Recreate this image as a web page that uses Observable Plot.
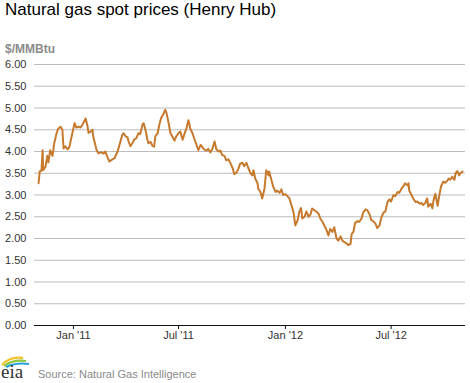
<!DOCTYPE html>
<html><head><meta charset="utf-8">
<script src="https://cdn.jsdelivr.net/npm/d3@7"></script>
<script src="https://cdn.jsdelivr.net/npm/@observablehq/plot@0.6"></script>
<style>
body{margin:0;width:470px;height:383px;position:relative;overflow:hidden;background:#fff;font-family:"Liberation Sans",Arial,sans-serif;}
#title{position:absolute;left:5px;top:0px;font-size:17px;color:#000;white-space:nowrap;}
#chart{position:absolute;left:0;top:45px;}
#unit{position:absolute;left:5px;top:42px;font-size:12px;font-weight:bold;color:#8a8a8a;}
#source{position:absolute;left:38px;top:368px;font-size:11px;color:#8a8a8a;white-space:nowrap;}
#logo{position:absolute;left:1px;top:352px;}
</style></head>
<body>
<div id="title">Natural gas spot prices (Henry Hub)</div>
<div id="chart"></div>
<div id="unit">$/MMBtu</div>
<svg id="logo" width="32" height="31" viewBox="0 0 32 31">
  <path d="M1 13 Q9 4 22 6" stroke="#f2c32e" stroke-width="2.4" fill="none"/>
  <path d="M3 14 Q12 7 25 9" stroke="#8dc63f" stroke-width="2.2" fill="none"/>
  <path d="M5 15 Q15 10 28 12" stroke="#27a2d8" stroke-width="2" fill="none"/>
  <text x="0" y="26" font-family="Liberation Serif, serif" font-size="19" fill="#333">eia</text>
</svg>
<div id="source">Source: Natural Gas Intelligence</div>
<script>
const dates = [
"2010-11-02","2010-11-04","2010-11-07","2010-11-09","2010-11-10","2010-11-14","2010-11-17","2010-11-19","2010-11-22","2010-11-26","2010-11-29",
"2010-12-03","2010-12-06","2010-12-10","2010-12-13","2010-12-15","2010-12-18","2010-12-22","2010-12-25","2010-12-29",
"2011-01-03","2011-01-06","2011-01-10","2011-01-13","2011-01-16","2011-01-22","2011-01-25","2011-01-27","2011-01-30",
"2011-02-03","2011-02-04","2011-02-10","2011-02-13","2011-02-18","2011-02-22","2011-02-25","2011-02-28",
"2011-03-04","2011-03-09","2011-03-13","2011-03-18","2011-03-23","2011-03-26","2011-03-28",
"2011-04-01","2011-04-04","2011-04-06","2011-04-09","2011-04-13","2011-04-16","2011-04-19","2011-04-23","2011-04-26","2011-04-30",
"2011-05-02","2011-05-05","2011-05-08","2011-05-10","2011-05-14","2011-05-17","2011-05-20","2011-05-22","2011-05-26","2011-05-29",
"2011-06-01","2011-06-05","2011-06-08","2011-06-10","2011-06-14","2011-06-17","2011-06-19","2011-06-22","2011-06-24","2011-06-27",
"2011-07-01","2011-07-04","2011-07-08","2011-07-11","2011-07-15","2011-07-18","2011-07-20","2011-07-21","2011-07-25","2011-07-28",
"2011-08-01","2011-08-04","2011-08-08","2011-08-11","2011-08-14","2011-08-18","2011-08-21","2011-08-25","2011-08-28",
"2011-09-01","2011-09-04","2011-09-08","2011-09-11","2011-09-14","2011-09-18","2011-09-21","2011-09-25","2011-09-28",
"2011-10-02","2011-10-05","2011-10-09","2011-10-12","2011-10-15","2011-10-19","2011-10-22","2011-10-26","2011-10-29",
"2011-11-02","2011-11-05","2011-11-07","2011-11-10","2011-11-14","2011-11-15","2011-11-19","2011-11-22","2011-11-26","2011-11-29",
"2011-12-03","2011-12-04","2011-12-08","2011-12-11","2011-12-15","2011-12-18","2011-12-22","2011-12-25","2011-12-28",
"2012-01-01","2012-01-04","2012-01-08","2012-01-11","2012-01-15","2012-01-18","2012-01-22","2012-01-25","2012-01-28","2012-01-30",
"2012-02-03","2012-02-06","2012-02-10","2012-02-13","2012-02-16","2012-02-20","2012-02-23","2012-02-27",
"2012-03-01","2012-03-05","2012-03-08","2012-03-11","2012-03-15","2012-03-18","2012-03-22","2012-03-25","2012-03-29",
"2012-04-01","2012-04-05","2012-04-08","2012-04-11","2012-04-15","2012-04-18","2012-04-22","2012-04-24","2012-04-27","2012-04-30",
"2012-05-04","2012-05-07","2012-05-11","2012-05-14","2012-05-18","2012-05-21","2012-05-25","2012-05-28","2012-05-31",
"2012-06-04","2012-06-07","2012-06-11","2012-06-14","2012-06-18","2012-06-21","2012-06-25","2012-06-28",
"2012-07-01","2012-07-05","2012-07-08","2012-07-12","2012-07-15","2012-07-19","2012-07-22","2012-07-25","2012-07-29","2012-07-31",
"2012-08-01","2012-08-05","2012-08-08","2012-08-12","2012-08-15","2012-08-19","2012-08-22","2012-08-25","2012-08-29",
"2012-09-01","2012-09-03","2012-09-07","2012-09-10","2012-09-12","2012-09-15","2012-09-19","2012-09-22","2012-09-25","2012-09-29",
"2012-10-02","2012-10-06","2012-10-08","2012-10-11","2012-10-14","2012-10-18","2012-10-20","2012-10-23","2012-10-26","2012-10-28","2012-11-01"
];
const prices = [
3.27,3.54,3.56,4.03,3.57,3.65,3.90,3.75,4.03,3.90,4.19,
4.42,4.53,4.57,4.50,4.07,4.12,4.05,4.10,4.35,
4.65,4.55,4.57,4.55,4.60,4.76,4.60,4.43,4.45,
4.50,4.35,4.03,3.96,3.98,3.95,4.00,3.89,
3.77,3.82,3.85,4.00,4.23,4.38,4.42,
4.35,4.33,4.23,4.12,4.20,4.28,4.30,4.42,4.40,4.62,
4.65,4.50,4.30,4.19,4.22,4.13,4.11,4.35,4.42,4.62,
4.77,4.86,4.96,4.90,4.65,4.42,4.38,4.30,4.25,4.35,
4.42,4.46,4.27,4.40,4.55,4.72,4.60,4.53,4.42,4.30,
4.15,4.03,4.15,4.10,4.05,4.02,4.06,3.98,4.05,
4.23,4.05,4.00,4.02,3.92,3.90,3.80,3.82,3.74,
3.62,3.48,3.52,3.60,3.72,3.74,3.66,3.74,3.62,
3.50,3.45,3.57,3.38,3.27,3.15,3.07,2.92,3.15,3.57,
3.45,3.54,3.34,3.19,3.07,3.10,3.05,3.13,3.00,
3.02,2.98,2.92,2.78,2.60,2.30,2.42,2.62,2.70,2.46,
2.50,2.62,2.50,2.55,2.69,2.65,2.62,2.57,
2.46,2.38,2.30,2.22,2.07,2.22,2.15,2.26,2.00,
1.95,2.05,1.95,1.92,1.89,1.85,1.87,2.10,2.15,2.36,
2.40,2.38,2.46,2.60,2.67,2.65,2.55,2.42,2.40,
2.34,2.24,2.30,2.48,2.60,2.62,2.85,2.90,
2.85,3.00,2.97,3.07,3.05,3.15,3.20,3.27,3.22,3.27,
3.11,3.00,2.92,2.84,2.85,2.80,2.82,2.77,2.82,
2.92,2.73,2.80,2.69,2.88,3.03,2.75,3.00,3.20,3.31,
3.28,3.33,3.38,3.35,3.42,3.35,3.50,3.55,3.45,3.50,3.54
];
const yTicks = [0,0.5,1,1.5,2,2.5,3,3.5,4,4.5,5,5.5,6];
const xTickDates = ["2011-01-01","2011-07-01","2012-01-01","2012-07-01"];
const xDomain = ["2010-10-26","2012-11-06"];

const n = Math.min(dates.length, prices.length);
const data = [];
for (let i = 0; i < n; i++) data.push({date: new Date(dates[i]), price: prices[i]});

const chart = Plot.plot({
  width: 470, height: 300,
  marginTop: 19, marginBottom: 20, marginLeft: 34, marginRight: 5,
  style: {fontFamily: "'Liberation Sans', Arial, sans-serif", fontSize: "11px", color: "#333", background: "transparent", overflow: "visible"},
  x: {type: "utc", domain: xDomain.map(d => new Date(d))},
  y: {domain: [0, 6]},
  marks: [
    Plot.ruleY(yTicks.filter(d => d > 0), {stroke: "#bcbcbc", strokeWidth: 1}),
    Plot.ruleY([0], {stroke: "#111", strokeWidth: 1.2}),
    Plot.axisY({ticks: yTicks, tickFormat: d3.format(".2f"), tickSize: 0, tickPadding: 8, label: null}),
    Plot.axisX({ticks: xTickDates.map(d => new Date(d)), tickFormat: d => d3.utcFormat("%b '%y")(d), tickSize: 4, tickPadding: 2, label: null, stroke: "#111"}),
    Plot.line(data, {x: "date", y: "price", stroke: "#c57a2e", strokeWidth: 2, strokeLinejoin: "round"})
  ]
});
document.getElementById("chart").appendChild(chart);
</script>
</body></html>
